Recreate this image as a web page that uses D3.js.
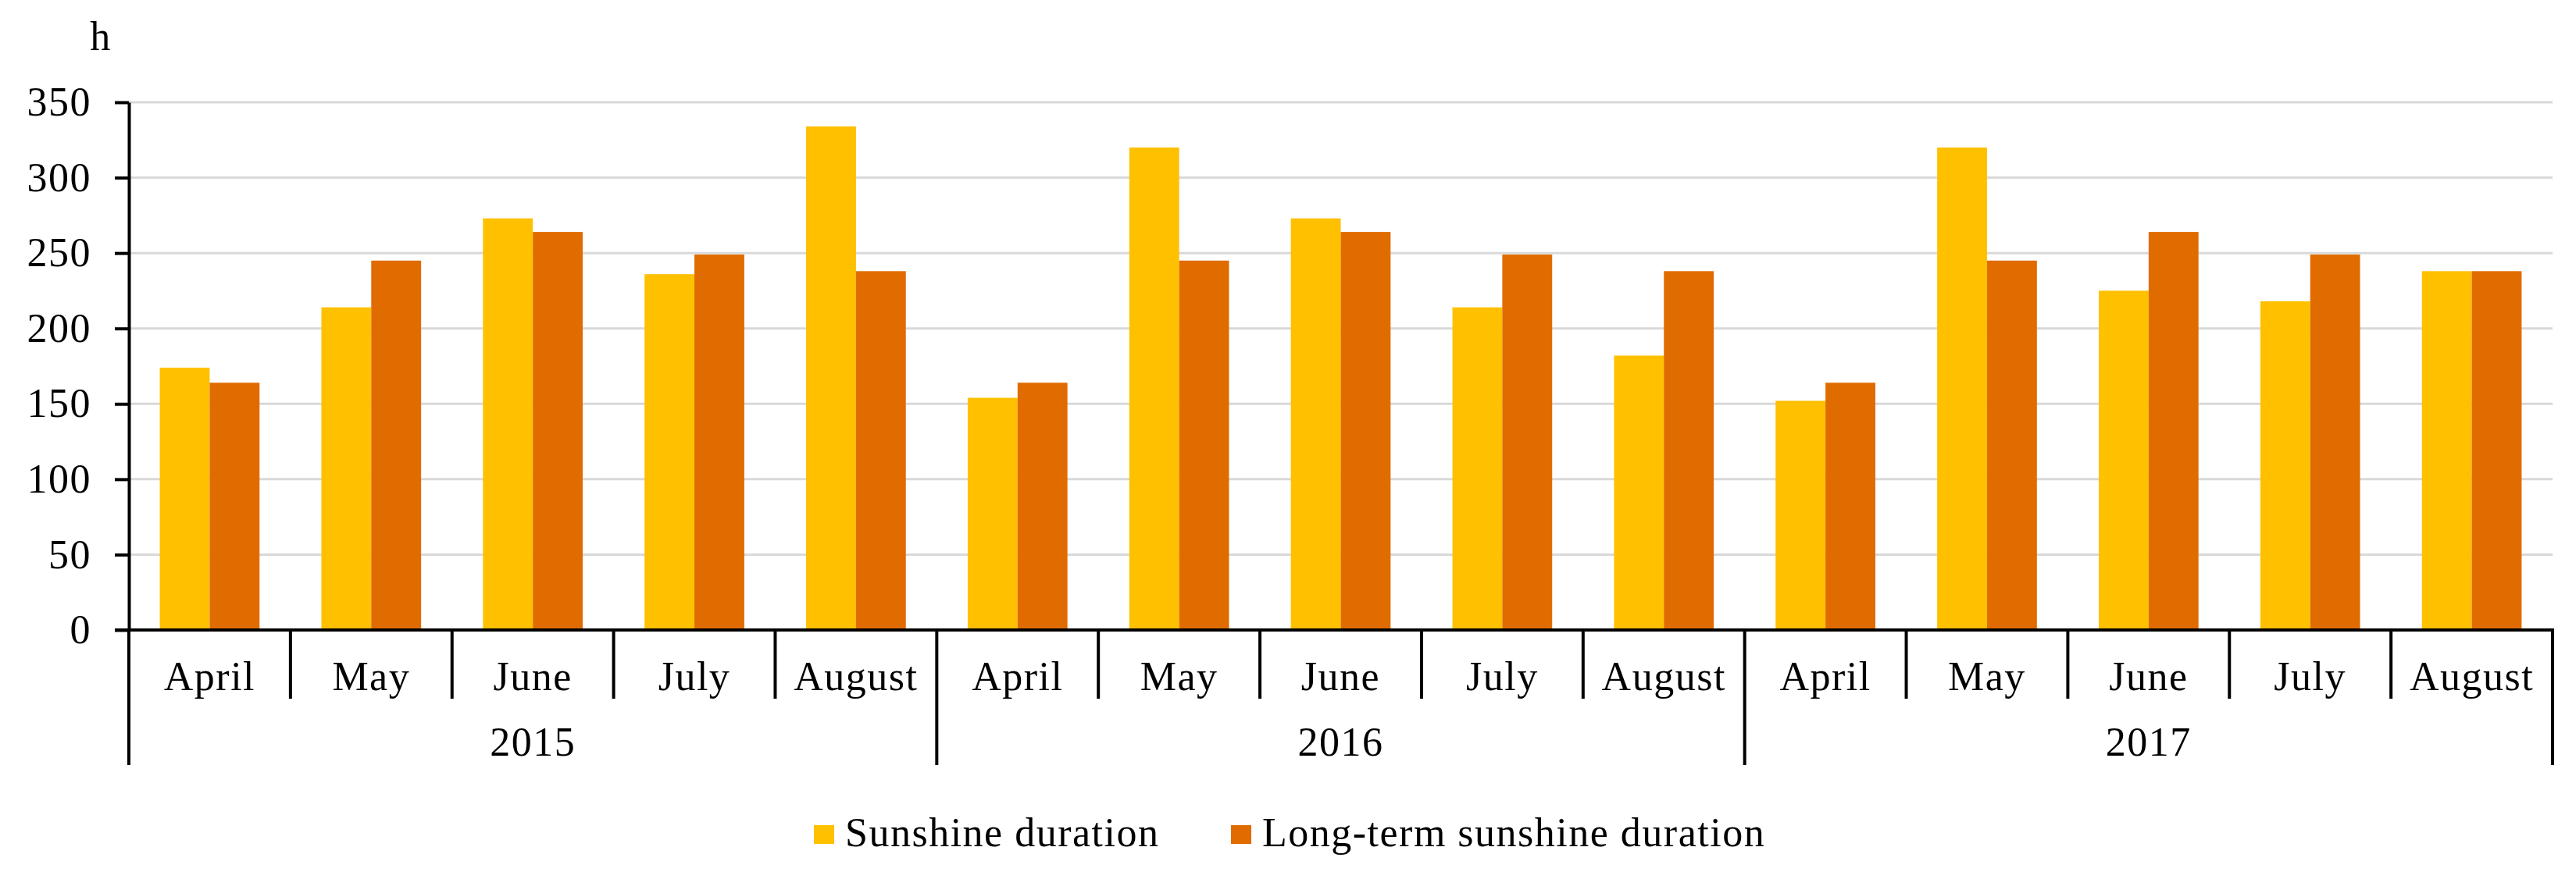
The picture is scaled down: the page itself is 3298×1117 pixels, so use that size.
<!DOCTYPE html>
<html lang="en">
<head>
    <meta charset="UTF-8">
    <title>Sunshine duration</title>
    <script src="https://d3js.org/d3.v7.min.js"></script>
    <style>
        body {
            margin: 0;
            background: #fff;
        }
        text {
            font-family: "Liberation Serif", "Times New Roman", serif;
            fill: #000;
            letter-spacing: 1.5px;
        }
    </style>
</head>
<body>
    <div id="chart"></div>

    <script>
        // Data
        const years = ["2015", "2016", "2017"];
        const months = ["April", "May", "June", "July", "August"];
        const seriesNames = ["Sunshine duration", "Long-term sunshine duration"];
        const seriesColors = ["#FFC000", "#E06C00"];
        const sunshine = [174, 214, 273, 236, 334, 154, 320, 273, 214, 182, 152, 320, 225, 218, 238];
        const longTerm = [164, 245, 264, 249, 238, 164, 245, 264, 249, 238, 164, 245, 264, 249, 238];
        const yTicks = [0, 50, 100, 150, 200, 250, 300, 350];

        // Layout
        const W = 3298, H = 1117;
        const plotLeft = 165, plotRight = 3268, plotTop = 131, plotBottom = 807;
        const fontSize = 52;

        const svg = d3.select("#chart")
            .append("svg")
            .attr("width", W)
            .attr("height", H);

        // one row per month of each year
        const rows = [];
        years.forEach((yr, i) => {
            months.forEach((m, j) => {
                const k = i * months.length + j;
                rows.push({key: yr + "-" + m, year: yr, month: m, values: [sunshine[k], longTerm[k]]});
            });
        });

        const x0 = d3.scaleBand()
            .domain(rows.map(d => d.key))
            .range([plotLeft, plotRight])
            .padding(0);

        const x1 = d3.scaleBand()
            .domain([0, 1])
            .range([0, x0.bandwidth()])
            .paddingInner(0)
            .paddingOuter(0.62);

        const y = d3.scaleLinear()
            .domain([0, 350])
            .range([plotBottom, plotTop]);

        // Gridlines
        svg.append("g")
            .selectAll("line")
            .data(yTicks.filter(t => t > 0))
            .enter()
            .append("line")
            .attr("x1", plotLeft)
            .attr("x2", plotRight)
            .attr("y1", d => y(d))
            .attr("y2", d => y(d))
            .attr("stroke", "#d9d9d9")
            .attr("stroke-width", 3);

        // Bars
        const groups = svg.append("g")
            .selectAll("g")
            .data(rows)
            .enter()
            .append("g")
            .attr("transform", d => `translate(${x0(d.key)},0)`);

        groups.selectAll("rect")
            .data(d => d.values.map((v, i) => ({i: i, v: v})))
            .enter()
            .append("rect")
            .attr("x", d => x1(d.i))
            .attr("width", x1.bandwidth())
            .attr("y", d => y(d.v))
            .attr("height", d => y(0) - y(d.v))
            .attr("fill", d => seriesColors[d.i]);

        // Y axis
        const yAxis = svg.append("g")
            .attr("transform", `translate(${plotLeft},0)`)
            .call(d3.axisLeft(y).tickValues(yTicks).tickSize(18).tickSizeOuter(0).tickPadding(30));

        yAxis.select(".domain").attr("stroke", "#000").attr("stroke-width", 4);
        yAxis.selectAll(".tick line").attr("stroke", "#000").attr("stroke-width", 4);
        yAxis.selectAll(".tick text")
            .style("font-family", '"Liberation Serif", "Times New Roman", serif')
            .style("font-size", fontSize + "px")
            .attr("fill", "#000");

        // unit label
        svg.append("text")
            .attr("x", 129)
            .attr("y", 64)
            .attr("text-anchor", "middle")
            .style("font-size", fontSize + "px")
            .text("h");

        // X axis baseline
        svg.append("line")
            .attr("x1", plotLeft - 18)
            .attr("x2", plotRight + 2)
            .attr("y1", y(0))
            .attr("y2", y(0))
            .attr("stroke", "#000")
            .attr("stroke-width", 4);

        // month dividers (short) and year dividers (long)
        const step = x0.step();
        const bounds = d3.range(rows.length + 1).map(i => plotLeft + i * step);

        svg.append("g")
            .selectAll("line")
            .data(bounds)
            .enter()
            .append("line")
            .attr("x1", d => d)
            .attr("x2", d => d)
            .attr("y1", y(0))
            .attr("y2", (d, i) => i % months.length === 0 ? 980 : 895)
            .attr("stroke", "#000")
            .attr("stroke-width", 4);

        // month labels
        svg.append("g")
            .selectAll("text")
            .data(rows)
            .enter()
            .append("text")
            .attr("x", d => x0(d.key) + x0.bandwidth() / 2)
            .attr("y", 884)
            .attr("text-anchor", "middle")
            .style("font-size", fontSize + "px")
            .text(d => d.month);

        // year labels
        svg.append("g")
            .selectAll("text")
            .data(years)
            .enter()
            .append("text")
            .attr("x", (d, i) => plotLeft + (i * months.length + months.length / 2) * step)
            .attr("y", 968)
            .attr("text-anchor", "middle")
            .style("font-size", fontSize + "px")
            .text(d => d);

        // Legend
        const legendX = [1042, 1576];
        const legend = svg.append("g")
            .selectAll("g")
            .data(seriesNames)
            .enter()
            .append("g")
            .attr("transform", (d, i) => `translate(${legendX[i]},1057)`);

        legend.append("rect")
            .attr("width", 26)
            .attr("height", 24)
            .attr("fill", (d, i) => seriesColors[i]);

        legend.append("text")
            .attr("x", 40)
            .attr("y", 27)
            .style("font-size", fontSize + "px")
            .text(d => d);
    </script>
</body>
</html>
